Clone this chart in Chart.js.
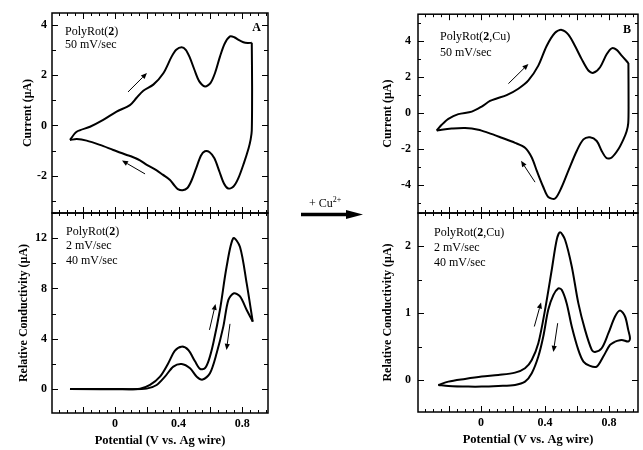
<!DOCTYPE html>
<html><head><meta charset="utf-8">
<script src="https://cdn.jsdelivr.net/npm/chart.js@4.4.1/dist/chart.umd.min.js"></script>
<style>
html,body{margin:0;padding:0;background:#fff;}
#wrap{position:relative;width:643px;height:450px;overflow:hidden;background:#fff;}
canvas{position:absolute;left:0;top:0;}
#cu{position:absolute;left:309px;top:196px;font:12px 'Liberation Serif','Times New Roman',serif;color:#000;white-space:nowrap;}
#cu span{font-size:8px;position:relative;top:-5px;}
svg{position:absolute;left:0;top:0;}
</style></head><body>
<div id="wrap">
<canvas id="cA1" width="643" height="450"></canvas>
<canvas id="cA2" width="643" height="450"></canvas>
<canvas id="cB1" width="643" height="450"></canvas>
<canvas id="cB2" width="643" height="450"></canvas>
<svg width="643" height="450"><line x1="301" y1="214.5" x2="350" y2="214.5" stroke="#000" stroke-width="3.3"/><polygon points="346,210 363,214.5 346,219" fill="#000"/></svg>
<div id="cu">+ Cu<span>2+</span></div>
</div>
<script>
// ---------- tick labels ----------
const xTickValues = [0, 0.4, 0.8];
const xTickLabels = ['0', '0.4', '0.8'];
const aCurrentTicks = [-2, 0, 2, 4];
const aCondTicks = [0, 4, 8, 12];
const bCurrentTicks = [-4, -2, 0, 2, 4];
const bCondTicks = [0, 1, 2];

// ---------- series (x: V vs Ag wire, y: uA) ----------
const aCvUpper = [[-0.283,-0.575],[-0.241,-0.25],[-0.157,-0.05],[-0.074,0.22],[0.01,0.55],[0.094,0.81],[0.136,1.1],[0.178,1.38],[0.241,1.62],[0.304,2.07],[0.356,2.73],[0.385,3.0],[0.419,3.1],[0.445,3.0],[0.47,2.7],[0.5,2.2],[0.53,1.75],[0.566,1.55],[0.6,1.68],[0.63,2.1],[0.66,2.73],[0.69,3.25],[0.723,3.53],[0.75,3.5],[0.775,3.4],[0.807,3.3],[0.835,3.27],[0.86,3.28]];
const aCvLower = [[0.86,3.28],[0.862,1.5],[0.86,-0.2],[0.853,-0.55],[0.84,-0.9],[0.81,-1.5],[0.775,-2.1],[0.745,-2.42],[0.712,-2.5],[0.685,-2.3],[0.655,-1.8],[0.625,-1.3],[0.595,-1.06],[0.565,-1.02],[0.54,-1.2],[0.51,-1.7],[0.48,-2.2],[0.455,-2.48],[0.425,-2.57],[0.395,-2.52],[0.37,-2.35],[0.346,-2.16],[0.3,-1.95],[0.262,-1.78],[0.2,-1.56],[0.157,-1.38],[0.1,-1.22],[0.074,-1.17],[-0.011,-0.97],[-0.094,-0.77],[-0.178,-0.6],[-0.24,-0.54],[-0.283,-0.575]];
const aCondUpper = [[-0.283,0],[0.0,0.0],[0.157,0.02],[0.22,0.32],[0.283,0.98],[0.335,2.05],[0.377,3.05],[0.419,3.37],[0.461,3.1],[0.503,2.2],[0.535,1.6],[0.565,1.65],[0.59,2.3],[0.618,3.64],[0.66,6.3],[0.702,9.74],[0.744,12.0],[0.786,11.3],[0.828,8.4],[0.866,5.36]];
const aCondLower = [[0.866,5.36],[0.828,6.29],[0.786,7.36],[0.748,7.62],[0.713,7.09],[0.681,4.96],[0.639,2.84],[0.597,1.25],[0.551,0.75],[0.514,0.98],[0.472,1.65],[0.419,1.99],[0.367,1.78],[0.314,0.98],[0.262,0.32],[0.199,0.03],[0.1,-0.02],[-0.283,0]];
const bCvUpper = [[-0.277,-0.96],[-0.246,-0.64],[-0.204,-0.31],[-0.142,-0.05],[-0.058,0.09],[0.004,0.37],[0.056,0.68],[0.098,0.82],[0.16,1.0],[0.233,1.36],[0.296,1.82],[0.358,2.64],[0.41,3.73],[0.4625,4.46],[0.504,4.62],[0.546,4.36],[0.5875,3.73],[0.629,3.0],[0.671,2.37],[0.702,2.24],[0.744,2.55],[0.785,3.27],[0.817,3.6],[0.848,3.51],[0.879,3.19],[0.921,2.78]];
const bCvLower = [[0.921,2.78],[0.922,0.5],[0.92,-0.55],[0.91,-1.0],[0.89,-1.45],[0.858,-2.0],[0.817,-2.45],[0.785,-2.49],[0.754,-2.09],[0.723,-1.54],[0.681,-1.33],[0.64,-1.45],[0.598,-2.09],[0.546,-3.18],[0.504,-4.09],[0.4625,-4.73],[0.42,-4.64],[0.389,-4.09],[0.348,-3.18],[0.317,-2.45],[0.275,-1.91],[0.2125,-1.64],[0.129,-1.36],[0.046,-1.09],[-0.017,-0.91],[-0.1,-0.82],[-0.183,-0.85],[-0.246,-0.91],[-0.277,-0.96]];
const bCondUpper = [[-0.267,-0.075],[-0.204,-0.025],[-0.1,0.015],[0.004,0.05],[0.108,0.075],[0.2125,0.11],[0.275,0.175],[0.317,0.30],[0.358,0.55],[0.4,1.05],[0.442,1.65],[0.473,2.1],[0.494,2.21],[0.525,2.1],[0.567,1.70],[0.608,1.15],[0.65,0.75],[0.692,0.45],[0.7125,0.42],[0.754,0.475],[0.796,0.70],[0.8375,0.95],[0.869,1.04],[0.9,0.95],[0.92,0.75],[0.931,0.625],[0.92,0.575],[0.879,0.60],[0.8375,0.575]];
const bCondLower = [[0.8375,0.575],[0.806,0.525],[0.764,0.35],[0.723,0.2],[0.681,0.21],[0.64,0.275],[0.608,0.45],[0.567,0.8],[0.535,1.15],[0.504,1.35],[0.483,1.37],[0.452,1.27],[0.42,1.05],[0.389,0.65],[0.358,0.35],[0.317,0.10],[0.275,-0.025],[0.2125,-0.075],[0.108,-0.09],[0.004,-0.1],[-0.079,-0.1],[-0.204,-0.09],[-0.267,-0.075]];

// direction arrows (data coords: tail -> head)
const aCvArrows = [[[0.082,1.33],[0.201,2.08]],[[0.189,-1.92],[0.044,-1.39]]];
const aCondArrows = [[[0.594,4.70],[0.632,6.77]],[[0.723,5.18],[0.701,3.11]]];
const bCvArrows = [[[0.171,1.64],[0.296,2.73]],[[0.3375,-3.82],[0.25,-2.64]]];
const bCondArrows = [[[0.333,0.80],[0.375,1.16]],[[0.479,0.85],[0.452,0.42]]];

const SERIF = "'Liberation Serif','Times New Roman',serif";

const deco = {
  id: 'deco',
  afterDatasetsDraw(chart, args, o) {
    const {ctx, chartArea: ca} = chart;
    const x = chart.scales.x, y = chart.scales.y;
    ctx.save();
    ctx.strokeStyle = '#000';
    ctx.fillStyle = '#000';
    ctx.lineWidth = 1;
    for (const t of o.xTicks) {
      for (let i = Math.ceil(x.min / t.step - 1e-6); i * t.step <= x.max + 1e-9; i++) {
        const px = Math.round(x.getPixelForValue(i * t.step)) + 0.5;
        ctx.beginPath();
        ctx.moveTo(px, ca.bottom); ctx.lineTo(px, ca.bottom - t.len);
        ctx.moveTo(px, ca.top); ctx.lineTo(px, ca.top + t.len);
        ctx.stroke();
      }
    }
    for (const t of o.yTicks) {
      for (let i = Math.ceil(y.min / t.step - 1e-6); i * t.step <= y.max + 1e-9; i++) {
        const py = Math.round(y.getPixelForValue(i * t.step)) + 0.5;
        ctx.beginPath();
        ctx.moveTo(ca.left, py); ctx.lineTo(ca.left + t.len, py);
        ctx.moveTo(ca.right, py); ctx.lineTo(ca.right - t.len, py);
        ctx.stroke();
      }
    }
    ctx.lineWidth = 1.5;
    ctx.strokeRect(ca.left, ca.top, ca.right - ca.left, ca.bottom - ca.top);
    ctx.textBaseline = 'middle';
    for (const t of o.texts) {
      let cx = ca.left + t.dx;
      const cy = ca.top + t.dy;
      ctx.textAlign = 'left';
      for (const [s, b] of t.runs) {
        ctx.font = (b ? 'bold ' : '') + '12px ' + SERIF;
        ctx.fillText(s, cx, cy);
        cx += ctx.measureText(s).width;
      }
    }
    if (o.letter) {
      ctx.font = 'bold 12px ' + SERIF;
      ctx.textAlign = 'right';
      ctx.fillText(o.letter.text, ca.right - o.letter.rx, ca.top + o.letter.dy);
    }
    ctx.lineWidth = 1;
    for (const [a, b] of o.arrows) {
      const x1 = x.getPixelForValue(a[0]), y1 = y.getPixelForValue(a[1]);
      const x2 = x.getPixelForValue(b[0]), y2 = y.getPixelForValue(b[1]);
      const ang = Math.atan2(y2 - y1, x2 - x1);
      const hl = 6, hw = 2.6;
      const bx = x2 - hl * Math.cos(ang), by = y2 - hl * Math.sin(ang);
      ctx.beginPath(); ctx.moveTo(x1, y1); ctx.lineTo(bx, by); ctx.stroke();
      ctx.beginPath();
      ctx.moveTo(x2, y2);
      ctx.lineTo(bx + hw * Math.sin(ang), by - hw * Math.cos(ang));
      ctx.lineTo(bx - hw * Math.sin(ang), by + hw * Math.cos(ang));
      ctx.closePath(); ctx.fill();
    }
    ctx.restore();
  }
};

function ds(arr) {
  return {
    data: arr.map(([x, y]) => ({x, y})),
    showLine: true, pointRadius: 0, borderColor: '#000', borderWidth: 2,
    tension: 0.3, fill: false
  };
}

function panel(id, p) {
  const tickFont = {family: SERIF, size: 12, weight: 'bold'};
  new Chart(document.getElementById(id), {
    type: 'scatter',
    data: {datasets: p.series.map(ds)},
    plugins: [deco],
    options: {
      responsive: false, animation: false, events: [], devicePixelRatio: 1,
      layout: {padding: p.pad},
      plugins: {
        legend: {display: false}, tooltip: {enabled: false},
        deco: {xTicks: [{step: 0.05, len: 3}, {step: 0.2, len: 6}], yTicks: p.yMarks,
               texts: p.texts, letter: p.letter, arrows: p.arrows}
      },
      scales: {
        x: {
          type: 'linear', min: p.xMin, max: p.xMax, display: p.showX,
          grid: {display: false, drawTicks: false}, border: {display: false},
          afterBuildTicks: s => { s.ticks = xTickValues.map(v => ({value: v})); },
          afterFit: s => { if (p.showX) s.height = 37; },
          ticks: {font: tickFont, color: '#000', padding: 4, maxRotation: 0,
                  callback: v => xTickLabels[xTickValues.indexOf(v)] ?? ''},
          title: {display: true, text: 'Potential (V vs. Ag wire)', color: '#000',
                  font: {family: SERIF, size: 12.5, weight: 'bold'}, padding: {top: 0, bottom: 2}}
        },
        y: {
          type: 'linear', min: p.yMin, max: p.yMax,
          grid: {display: false, drawTicks: false}, border: {display: false},
          afterBuildTicks: s => { s.ticks = p.yTickValues.map(v => ({value: v})); },
          afterFit: s => { s.width = p.yWidth; },
          ticks: {font: tickFont, color: '#000', padding: p.yPad, callback: v => String(v)},
          title: {display: true, text: p.yTitle, color: '#000',
                  font: {family: SERIF, size: 12, weight: 'bold'}, padding: 0}
        }
      }
    }
  });
}

const textA1 = [{dx: 13, dy: 19, runs: [['PolyRot(', 0], ['2', 1], [')', 0]]}, {dx: 13, dy: 32, runs: [['50 mV/sec', 0]]}];
const textA2 = [{dx: 14, dy: 19, runs: [['PolyRot(', 0], ['2', 1], [')', 0]]}, {dx: 14, dy: 33, runs: [['2 mV/sec', 0]]}, {dx: 14, dy: 48, runs: [['40 mV/sec', 0]]}];
const textB1 = [{dx: 22, dy: 23, runs: [['PolyRot(', 0], ['2', 1], [',Cu)', 0]]}, {dx: 22, dy: 39, runs: [['50 mV/sec', 0]]}];
const textB2 = [{dx: 16, dy: 20, runs: [['PolyRot(', 0], ['2', 1], [',Cu)', 0]]}, {dx: 16, dy: 35, runs: [['2 mV/sec', 0]]}, {dx: 16, dy: 50, runs: [['40 mV/sec', 0]]}];

panel('cA1', {series: [aCvUpper, aCvLower], pad: {left: 21, top: 13, right: 375, bottom: 237}, yWidth: 31, yPad: 5,
  xMin: -0.396, xMax: 0.962, showX: false, yMin: -3.47, yMax: 4.46, yTickValues: aCurrentTicks,
  yMarks: [{step: 1, len: 4}, {step: 2, len: 6}], yTitle: 'Current (μA)', texts: textA1,
  letter: {text: 'A', rx: 7, dy: 15}, arrows: aCvArrows});
panel('cA2', {series: [aCondUpper, aCondLower], pad: {left: 17, top: 213, right: 375, bottom: 0}, yWidth: 35, yPad: 5,
  xMin: -0.396, xMax: 0.962, showX: true, yMin: -1.91, yMax: 14.0, yTickValues: aCondTicks,
  yMarks: [{step: 2, len: 4}, {step: 4, len: 6}], yTitle: 'Relative Conductivity (μA)', texts: textA2,
  letter: null, arrows: aCondArrows});
panel('cB1', {series: [bCvUpper, bCvLower], pad: {left: 381, top: 11, right: 5, bottom: 237}, yWidth: 37, yPad: 7,
  xMin: -0.394, xMax: 0.981, showX: false, yMin: -5.53, yMax: 5.49, yTickValues: bCurrentTicks,
  yMarks: [{step: 1, len: 3}, {step: 2, len: 6}], yTitle: 'Current (μA)', texts: textB1,
  letter: {text: 'B', rx: 7, dy: 16}, arrows: bCvArrows});
panel('cB2', {series: [bCondUpper, bCondLower], pad: {left: 381, top: 213, right: 5, bottom: 1}, yWidth: 37, yPad: 7,
  xMin: -0.394, xMax: 0.981, showX: true, yMin: -0.48, yMax: 2.5, yTickValues: bCondTicks,
  yMarks: [{step: 0.5, len: 4}, {step: 1, len: 6}], yTitle: 'Relative Conductivity (μA)', texts: textB2,
  letter: null, arrows: bCondArrows});
</script>
</body></html>
